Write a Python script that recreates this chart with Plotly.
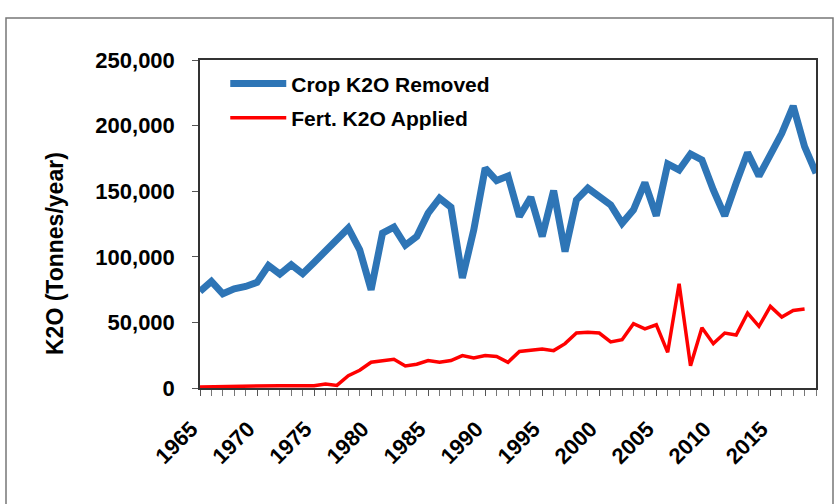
import plotly.graph_objects as go

years = list(range(1965, 2020))
crop_removed = [73600, 81200, 71800, 75600, 77400, 80500, 93400, 86800, 93900, 87100,
                95700, 104300, 113200, 121800, 105300, 74900, 118000, 122600, 108800, 115500,
                133300, 144700, 137800, 83800, 120500, 167500, 158100, 161600, 130700, 145400,
                115500, 150500, 104000, 143400, 152300, 146400, 139600, 125600, 135800, 156500,
                131200, 170800, 166200, 178400, 173800, 151000, 131200, 156100, 179400, 161600,
                177600, 194100, 214900, 184000, 163700]
fert_years = list(range(1965, 2019))
fert_applied = [800, 1000, 1300, 1500, 1500, 1500, 1800, 1800, 1800, 2000,
                1800, 3000, 2000, 9400, 13500, 19600, 20900, 21900, 16800, 18100,
                20900, 19600, 20900, 24700, 22900, 24700, 24100, 19600, 27900, 28700,
                29700, 28500, 33800, 41900, 42400, 41900, 35100, 36800, 49000, 45000,
                48200, 27200, 79400, 17000, 46000, 33800, 41900, 40400, 57100, 47000,
                62200, 54100, 59100, 60200]
label_years = [1965, 1970, 1975, 1980, 1985, 1990, 1995, 2000, 2005, 2010, 2015]
y_title = "K2O (Tonnes/year)"

FONT = "Liberation Sans, Arial, sans-serif"
BOLD = dict(family=FONT, size=22, color="black", weight="bold")
LEG = dict(family=FONT, size=21, color="black", weight="bold")

fig = go.Figure()
fig.add_trace(go.Scatter(x=years, y=crop_removed, mode="lines", name="Crop K2O Removed",
                         line=dict(color="#2E75B6", width=7), legendgroup="a"))
fig.add_trace(go.Scatter(x=fert_years, y=fert_applied, mode="lines", name="Fert. K2O Applied",
                         line=dict(color="#FF0000", width=3.5), legendgroup="b"))

fig.update_layout(
    width=840, height=504,
    margin=dict(l=200, r=24, t=60, b=116),
    paper_bgcolor="white", plot_bgcolor="white",
    font=BOLD,
    showlegend=True,
    legend=dict(x=0.041, y=0.99, xanchor="left", yanchor="top", itemwidth=56,
                bgcolor="rgba(0,0,0,0)", font=LEG, tracegroupgap=4),
    xaxis=dict(range=[1965, 2019], tickvals=label_years,
               ticktext=[str(v) + "\u00a0\u00a0" for v in label_years],
               tickangle=-45, ticks="outside", ticklen=6, tickcolor="#555",
               showline=True, linecolor="#333", linewidth=1.5, mirror=True,
               showgrid=False, zeroline=False, automargin=False,
               tickfont=BOLD, ticklabelstandoff=3,
               minor=dict(dtick=1, tick0=1965, ticks="outside", ticklen=6, tickcolor="#777", showgrid=False)),
    yaxis=dict(range=[0, 250000], dtick=50000, tickformat=",", ticks="outside", ticklen=6,
               tickcolor="#555", showline=True, linecolor="#333", linewidth=1.5, mirror=True,
               showgrid=False, zeroline=False, automargin=False, tickfont=BOLD,
               ticklabelstandoff=13),
)

fig.add_annotation(text=y_title, xref="paper", yref="paper",
                   x=(55 - 200) / 616, y=(388 - 254) / 328, textangle=-90,
                   showarrow=False, xanchor="center", yanchor="middle",
                   font=dict(family=FONT, size=23, color="black", weight="bold"))

# outer chart border
fig.add_shape(type="rect", xref="paper", yref="paper",
              x0=(6 - 200) / 616, x1=(833 - 200) / 616,
              y0=(388 - 520) / 328, y1=(388 - 18) / 328,
              line=dict(color="#777", width=1.5), fillcolor="rgba(0,0,0,0)", layer="below")

fig.write_html("out.html", config={"displayModeBar": False},
               post_script="document.body.style.margin='0';document.body.style.overflow='hidden';")
